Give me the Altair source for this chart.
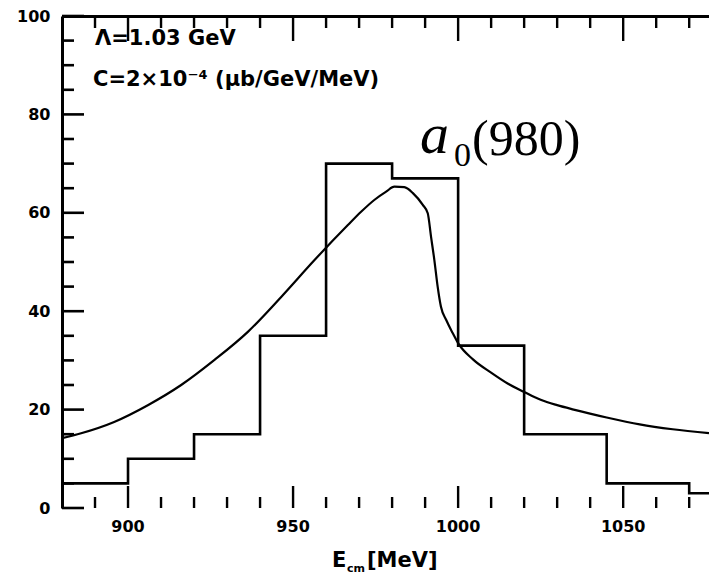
import altair as alt
import pandas as pd

# Histogram of events: bin edges (MeV) and counts
bin_edges = [880, 900, 920, 940, 960, 980, 1000, 1020, 1045, 1070, 1090]
bin_counts = [5, 10, 15, 35, 70, 67, 33, 15, 5, 3]

# Model curve (MeV, events)
curve_e = [880, 885.8, 895.8, 906, 916.1, 926.2, 936.3, 946.4, 956.5, 966.6,
           970.6, 974.6, 978.2, 980.7, 983.7, 986.3, 989.3, 990.8, 991.8,
           992.8, 993.8, 994.8, 996.4, 998.4, 1000, 1004.5, 1010, 1015, 1020,
           1025, 1030, 1035, 1045, 1055, 1065, 1076]
curve_v = [14.2, 15.2, 17.5, 20.9, 25.0, 30.1, 35.8, 42.9, 50.4, 57.5,
           60.2, 62.6, 64.3, 65.3, 65.2, 64.0, 61.6, 59.9, 55.1,
           50.4, 45.0, 40.9, 38.2, 35.5, 33.5, 30.2, 27.5, 25.3, 23.6,
           22.0, 20.9, 20.0, 18.4, 17.0, 16.0, 15.2]

# Axis tick values
x_major = [900, 950, 1000, 1050]
x_minor = [890, 910, 920, 930, 940, 960, 970, 980, 990, 1010, 1020, 1030,
           1040, 1060, 1070]
y_major = [0, 20, 40, 60, 80, 100]
y_minor = [5, 10, 15, 25, 30, 35, 45, 50, 55, 65, 70, 75, 85, 90, 95]

X_MIN, X_MAX = 880, 1076
W, H = 647, 492
LABEL_FONT = "DejaVu Sans"

xs = alt.Scale(domain=[X_MIN, X_MAX], nice=False, zero=False)
ys = alt.Scale(domain=[0, 100], nice=False)

hist_df = pd.DataFrame({"E": bin_edges, "N": bin_counts + [bin_counts[-1]]})
curve_df = pd.DataFrame({"E": curve_e, "N": curve_v})

# bottom axis: domain line only; its numbers are a text layer below
base_x = alt.X("E:Q", scale=xs,
               axis=alt.Axis(values=x_major, ticks=False, labels=False,
                             domainWidth=3, domainColor="black",
                             title=None, grid=False))
base_y = alt.Y("N:Q", scale=ys,
               axis=alt.Axis(values=y_major, ticks=False, domainWidth=3,
                             domainColor="black", labelFont=LABEL_FONT,
                             labelFontWeight="bold", labelFontSize=16,
                             labelColor="black", labelPadding=12,
                             format="d", title=None, grid=False))

hist = alt.Chart(hist_df).mark_line(
    interpolate="step-after", color="black", strokeWidth=2.6, clip=True
).encode(x=base_x, y=base_y)

curve = alt.Chart(curve_df).mark_line(
    interpolate="monotone", color="black", strokeWidth=2.2, clip=True
).encode(x=alt.X("E:Q", scale=xs), y=alt.Y("N:Q", scale=ys))

# Top frame line (axis with domain only)
top_axis = alt.Chart(curve_df).mark_point(opacity=0).encode(
    x=alt.X("E:Q", scale=xs,
            axis=alt.Axis(orient="top", ticks=False, labels=False,
                          domainWidth=3, domainColor="black", title=None,
                          grid=False)),
    y=alt.Y("N:Q", scale=ys)
)

# Inward-pointing ticks
def xticks(vals, y0, y1, width):
    df = pd.DataFrame({"E": vals})
    return alt.Chart(df).mark_rule(color="black", strokeWidth=width).encode(
        x=alt.X("E:Q", scale=xs), y=alt.value(y0), y2=alt.value(y1))

def yticks(vals, length, width):
    df = pd.DataFrame({"N": vals})
    return alt.Chart(df).mark_rule(color="black", strokeWidth=width).encode(
        y=alt.Y("N:Q", scale=ys), x=alt.value(0), x2=alt.value(length))

ticks = [
    xticks(x_major, H, H - 22, 2.4),
    xticks(x_minor, H, H - 11, 2.4),
    xticks(x_major, 0, 25, 2.4),
    xticks(x_minor, 0, 12, 2.4),
    yticks(y_major, 22, 2.6),
    yticks(y_minor, 12, 2.6),
]

# x tick numbers
xlabels = alt.Chart(pd.DataFrame({"E": x_major})).mark_text(
    font=LABEL_FONT, fontWeight="bold", fontSize=16, color="black",
    align="center", baseline="middle"
).encode(x=alt.X("E:Q", scale=xs), y=alt.value(H + 19),
         text=alt.Text("E:Q", format="d"))

def label(text, x, y, size, weight="bold", font=LABEL_FONT, style="normal"):
    return alt.Chart(pd.DataFrame({"t": [text]})).mark_text(
        align="left", baseline="alphabetic", font=font, fontSize=size,
        fontWeight=weight, fontStyle=style, color="black"
    ).encode(text="t:N", x=alt.value(x), y=alt.value(y))

texts = [
    label("Λ=1.03 GeV", 33, 29, 21),
    label("C=2×10⁻⁴ (μb/GeV/MeV)", 31, 70, 21),
    label("a", 358, 137, 58, weight="normal", font="Liberation Serif",
          style="italic"),
    label("0", 392, 150, 34, weight="normal", font="Liberation Serif"),
    label("(980)", 410, 139, 50, weight="normal", font="Liberation Serif"),
    # x-axis title: E_cm [MeV]
    label("E", 270, 551, 21),
    label("cm", 285, 556, 11),
    label("[MeV]", 305, 551, 21),
]

chart = alt.layer(hist, curve, top_axis, *ticks, xlabels, *texts).properties(
    width=W, height=H,
    autosize=alt.AutoSizeParams(type="none"),
    padding={"left": 62, "top": 16, "right": 0, "bottom": 69},
    background="white",
).configure_view(stroke=None)

chart.save("out.html", embed_options={"renderer": "svg", "actions": False})
